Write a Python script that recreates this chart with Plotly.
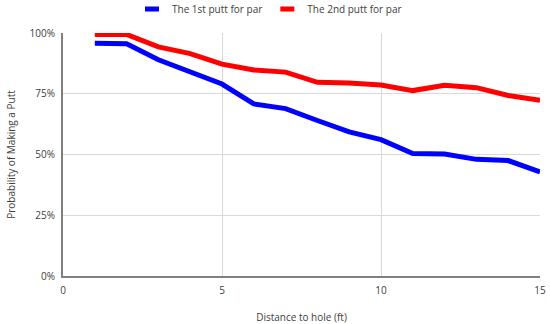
import plotly.graph_objects as go

distance_ft = list(range(1, 16))
first_putt = [95.8, 95.6, 89.0, 84.2, 79.0, 70.8, 68.9, 64.0, 59.3, 56.1, 50.4, 50.2, 48.0, 47.5, 42.8]
second_putt = [99.4, 99.4, 94.3, 91.5, 87.2, 84.8, 83.9, 79.7, 79.4, 78.6, 76.3, 78.5, 77.5, 74.3, 72.3]
y_ticks = [0, 25, 50, 75, 100]
y_tick_labels = ["0%", "25%", "50%", "75%", "100%"]
x_ticks = [0, 5, 10, 15]

series = [
    ("The 1st putt for par", first_putt, "#0000FF"),
    ("The 2nd putt for par", second_putt, "#FF0000"),
]

fig = go.Figure()
for name, vals, col in series:
    fig.add_trace(go.Scatter(x=distance_ft, y=vals, mode="lines", name=name,
                             line=dict(color=col, width=5), showlegend=False))
    fig.add_trace(go.Scatter(x=[None], y=[None], mode="markers", name=name,
                             marker=dict(symbol="line-ew-open", size=10, color=col,
                                         line=dict(color=col, width=5))))

font = dict(family="Open Sans, Liberation Sans, sans-serif", size=10, color="#404040")
fig.update_layout(
    width=550, height=324,
    margin=dict(l=63, r=10, t=33, b=48),
    paper_bgcolor="white", plot_bgcolor="white",
    font=font,
    legend=dict(orientation="h", xref="container", yref="container",
                x=0.24, xanchor="left", y=0.972, yanchor="middle",
                font=dict(size=10, color="#404040"), itemwidth=30,
                bgcolor="rgba(0,0,0,0)"),
    xaxis=dict(range=[0, 15], tickvals=x_ticks, showgrid=True, gridcolor="#D9D9D9",
               gridwidth=1, showline=True, linecolor="#808080", linewidth=2,
               zeroline=False, ticks="", automargin=False, ticklabelstandoff=4,
               title=dict(text="Distance to hole (ft)", font=dict(size=10), standoff=18),
               tickfont=dict(size=10)),
    yaxis=dict(range=[0, 100], tickvals=y_ticks, ticktext=y_tick_labels,
               showgrid=True, gridcolor="#D9D9D9", gridwidth=1, showline=True,
               linecolor="#808080", linewidth=2, zeroline=False, ticks="",
               automargin=False, ticklabelstandoff=4,
               title=dict(text="Probability of Making a Putt", font=dict(size=10),
                          standoff=12), tickfont=dict(size=10)),
)

fig.write_html("out.html", config={"displayModeBar": False},
               post_script="document.body.style.margin='0';")
